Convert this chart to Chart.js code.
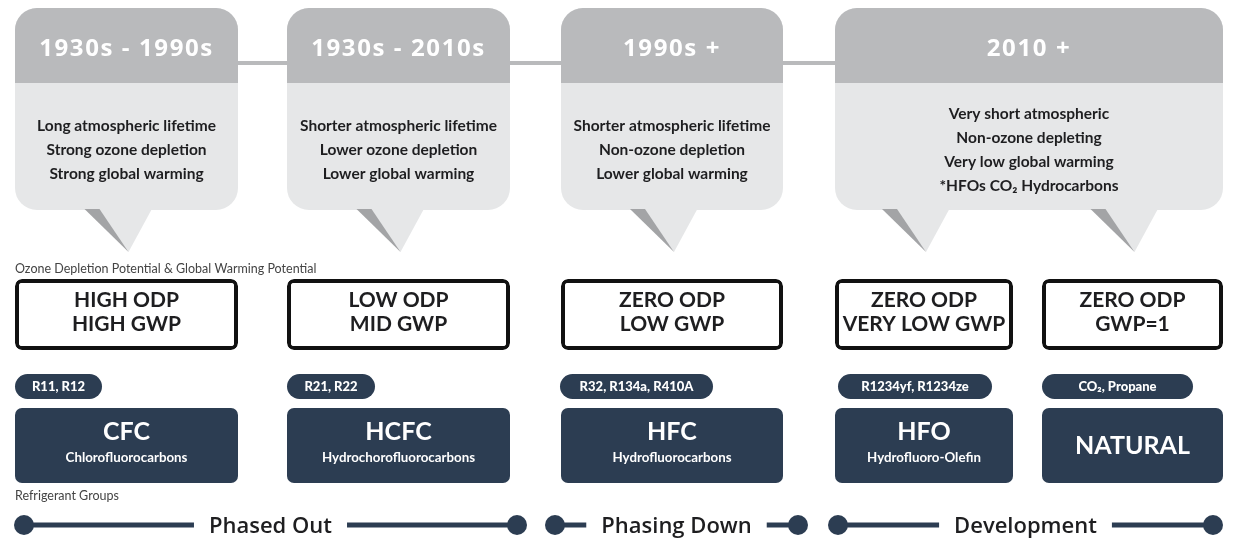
<!DOCTYPE html>
<html>
<head>
<meta charset="utf-8">
<script src="https://cdn.jsdelivr.net/npm/chart.js@4.4.1/dist/chart.umd.min.js"></script>
<style>
  html, body { margin: 0; padding: 0; background: #fff; }
  #wrap { position: relative; width: 1235px; height: 539px; }
</style>
</head>
<body>
<div id="wrap"><canvas id="refrigerants"></canvas></div>
<script>
// --- content ---
const eras = ["1930s - 1990s", "1930s - 2010s", "1990s +", "2010 +"];
const eraTraits = [
    ["Long atmospheric lifetime", "Strong ozone depletion", "Strong global warming"],
    ["Shorter atmospheric lifetime", "Lower ozone depletion", "Lower global warming"],
    ["Shorter atmospheric lifetime", "Non-ozone depletion", "Lower global warming"],
    ["Very short atmospheric", "Non-ozone depleting", "Very low global warming", "*HFOs CO\u2082 Hydrocarbons"],
];
const potentials = [
    ["HIGH ODP", "HIGH GWP"],
    ["LOW ODP", "MID GWP"],
    ["ZERO ODP", "LOW GWP"],
    ["ZERO ODP", "VERY LOW GWP"],
    ["ZERO ODP", "GWP=1"],
];
const examples = ["R11, R12", "R21, R22", "R32, R134a, R410A", "R1234yf, R1234ze", "CO\u2082, Propane"];
const groups = ["CFC", "HCFC", "HFC", "HFO", "NATURAL"];
const groupNames = ["Chlorofluorocarbons", "Hydrochorofluorocarbons", "Hydrofluorocarbons", "Hydrofluoro-Olefin", ""];
const phases = ["Phased Out", "Phasing Down", "Development"];
const potentialCaption = "Ozone Depletion Potential & Global Warming Potential";
const groupCaption = "Refrigerant Groups";

// --- layout (scale units == page pixels) ---
const W = 1235, H = 539;
const colSpans = [[15, 238], [287, 510], [561, 783], [835, 1013], [1042, 1223]];
const bubbleSpans = [[15, 238], [287, 510], [561, 783], [835, 1223]];
const bubbleCols = [[0], [1], [2], [3, 4]];
const pillSpans = [[15, 102], [287, 375], [560, 713], [838, 992], [1042, 1193]];
const phaseSpans = [[24, 517], [555, 798], [838, 1213]];
const rows = {
    header: [8, 83], bubble: [8, 210], tailTip: 252, connector: 63,
    potential: [279, 350], pill: [374, 399], group: [408, 483], timeline: 525,
};

const NAVY = "#2c3d52";
const INK = "#1e1e20";
const FONT = "Lato, 'Open Sans', sans-serif";
const phaseFont = `600 22px 'Open Sans', ${FONT}`;

const mid = (r) => (r[0] + r[1]) / 2;
const boxes = (spans, row) => spans.map((s) => ({ x: s, y: mid(row) }));
const barSet = (label, spans, row, extra) => Object.assign({
    type: "bar", label, data: boxes(spans, row),
    barThickness: row[1] - row[0], grouped: false, borderSkipped: false,
    inflateAmount: 0, order: 5,
}, extra);

// timeline segments leave a gap for the phase label
const measure = document.createElement("canvas").getContext("2d");
measure.font = phaseFont;
const timelineSets = [];
phases.forEach((p, i) => {
    const [a, b] = phaseSpans[i];
    const c = (a + b) / 2;
    const gap = measure.measureText(p).width / 2 + 15;
    const y = rows.timeline;
    [[a, c - gap, [10, 0]], [c + gap, b, [0, 10]]].forEach(([s, e, r]) => {
        timelineSets.push({
            type: "line", label: "timeline", indexAxis: "x",
            data: [{ x: s, y }, { x: e, y }],
            borderColor: NAVY, borderWidth: 5, borderCapStyle: "butt",
            pointRadius: r, pointBackgroundColor: NAVY, pointBorderWidth: 0,
            order: 1,
        });
    });
});

const tri = (ctx, pts, fill) => {
    ctx.beginPath();
    ctx.moveTo(pts[0][0], pts[0][1]);
    pts.slice(1).forEach((p) => ctx.lineTo(p[0], p[1]));
    ctx.closePath();
    ctx.fillStyle = fill;
    ctx.fill();
};

const textPlugin = {
    id: "infoText",
    afterDatasetsDraw(chart) {
        const ctx = chart.ctx;
        const xs = chart.scales.x, ys = chart.scales.y;
        const meta = (label) => chart.getDatasetMeta(chart.data.datasets.findIndex((d) => d.label === label)).data;
        const put = (t, x, y, font, color) => {
            ctx.font = font;
            ctx.fillStyle = color;
            ctx.fillText(t, x, y);
        };
        ctx.save();

        // bubble tails
        bubbleCols.forEach((cols) => cols.forEach((c) => {
            const cx = xs.getPixelForValue(mid(colSpans[c]));
            const top = ys.getPixelForValue(rows.bubble[1]);
            const tip = ys.getPixelForValue(rows.tailTip);
            tri(ctx, [[cx - 42, top - 4], [cx + 27, top - 4], [cx + 2, tip]], "#e6e7e8");
            tri(ctx, [[cx - 42, top - 1], [cx - 27, top - 1], [cx + 2, tip]], "#a3a4a6");
        }));

        ctx.textAlign = "center";
        ctx.textBaseline = "alphabetic";

        meta("headers").forEach((el, i) => {
            const p = el.getCenterPoint();
            ctx.letterSpacing = "1.6px";
            put(eras[i], p.x, p.y + 10, `bold 24px 'Open Sans', ${FONT}`, "#ffffff");
            ctx.letterSpacing = "0px";
        });

        meta("bubbles").forEach((el, i) => {
            const p = el.getCenterPoint();
            const lines = eraTraits[i];
            const step = 23.7;
            const first = p.y + 46 - (lines.length - 1) / 2 * step;
            lines.forEach((t, k) => put(t, p.x, first + k * step, `bold 15.5px ${FONT}`, INK));
        });

        meta("potentials").forEach((el, i) => {
            const p = el.getCenterPoint();
            put(potentials[i][0], p.x, p.y - 7.5, `bold 21px ${FONT}`, INK);
            put(potentials[i][1], p.x, p.y + 16.5, `bold 21px ${FONT}`, INK);
        });

        meta("examples").forEach((el, i) => {
            const p = el.getCenterPoint();
            put(examples[i], p.x, p.y + 4.5, `900 13px ${FONT}`, "#ffffff");
        });

        meta("groups").forEach((el, i) => {
            const p = el.getCenterPoint();
            if (groupNames[i]) {
                put(groups[i], p.x, p.y - 5.5, `bold 25px ${FONT}`, "#ffffff");
                put(groupNames[i], p.x, p.y + 16.5, `bold 13.3px ${FONT}`, "#ffffff");
            } else {
                put(groups[i], p.x, p.y + 8, `bold 25px ${FONT}`, "#ffffff");
            }
        });

        phases.forEach((t, i) => {
            const x = xs.getPixelForValue(mid(phaseSpans[i]));
            put(t, x, ys.getPixelForValue(rows.timeline) + 7.5, phaseFont, INK);
        });

        ctx.textAlign = "left";
        const left = xs.getPixelForValue(colSpans[0][0]);
        put(potentialCaption, left, ys.getPixelForValue(rows.potential[0]) - 6, `12.5px ${FONT}`, "#444444");
        put(groupCaption, left, ys.getPixelForValue(rows.group[1]) + 17, `12.5px ${FONT}`, "#444444");
        ctx.restore();
    },
};

new Chart(document.getElementById("refrigerants"), {
    type: "bar",
    data: {
        datasets: [
            {
                type: "line", label: "connector", indexAxis: "x",
                data: [{ x: bubbleSpans[0][0], y: rows.connector }, { x: bubbleSpans[3][1], y: rows.connector }],
                borderColor: "#b9babc", borderWidth: 4, pointRadius: 0, order: 20,
            },
            barSet("bubbles", bubbleSpans, rows.bubble, { backgroundColor: "#e6e7e8", borderRadius: 22, order: 10 }),
            barSet("headers", bubbleSpans, rows.header, {
                backgroundColor: "#b9babc", order: 9,
                borderRadius: { topLeft: 22, topRight: 22, bottomLeft: 0, bottomRight: 0 },
            }),
            barSet("potentials", colSpans, rows.potential, {
                backgroundColor: "#ffffff", borderColor: "#111111", borderWidth: 4, borderRadius: 7,
            }),
            barSet("examples", pillSpans, rows.pill, { backgroundColor: NAVY, borderRadius: 12.5 }),
            barSet("groups", colSpans, rows.group, { backgroundColor: NAVY, borderRadius: 7 }),
            ...timelineSets,
        ],
    },
    options: {
        indexAxis: "y",
        responsive: true,
        maintainAspectRatio: false,
        animation: false,
        layout: { padding: 0, autoPadding: false },
        scales: {
            x: { type: "linear", min: 0, max: W, display: false, offset: false },
            y: { type: "linear", min: 0, max: H, reverse: true, display: false, offset: false },
        },
        plugins: {
            legend: { display: false },
            tooltip: { enabled: false },
        },
    },
    plugins: [textPlugin],
});
</script>
</body>
</html>
